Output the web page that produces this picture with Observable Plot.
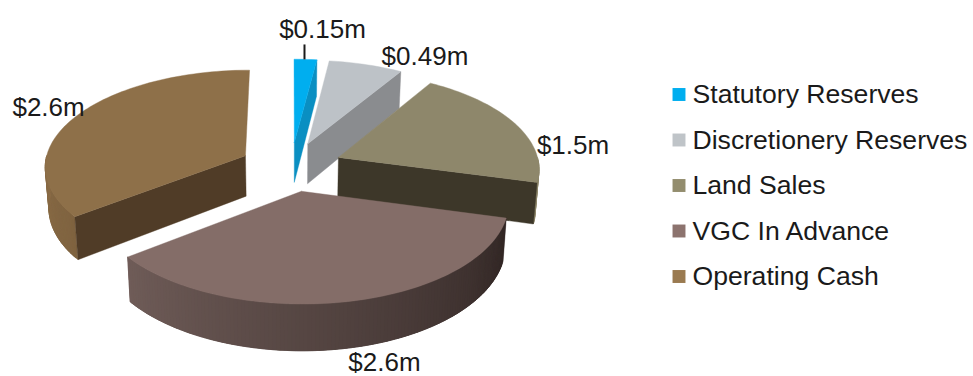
<!DOCTYPE html>
<html>
<head>
<meta charset="utf-8">
<style>
  html, body { margin: 0; padding: 0; background: #fff; }
  svg { display: block; }
</style>
<script src="https://cdn.jsdelivr.net/npm/d3@7"></script>
<script src="https://cdn.jsdelivr.net/npm/@observablehq/plot@0.6"></script>
</head>
<body>
<script>
// Funding sources, in millions of dollars
const categories = ["Statutory Reserves", "Discretionery Reserves", "Land Sales", "VGC In Advance", "Operating Cash"];
const values = [0.15, 0.49, 1.5, 2.6, 2.6];
const valueLabels = ["$0.15m", "$0.49m", "$1.5m", "$2.6m", "$2.6m"];

// Slice colours: top surface, flat cut faces, rim at each end of the slice
const topColors = ["#00aeef", "#bdc2c7", "#8e876b", "#846d68", "#8e7049"];
const faceColors = ["#0a8fc2", "#8a8c8f", "#3d3729", "#4a3b39", "#503c27"];
const rimColors = [["#0a8fc2", "#0a8fc2"], ["#8a8c8f", "#8a8c8f"], ["#8e876b", "#8e876b"], ["#322725", "#6f5c58"], ["#7f6340", "#8a6c46"]];
const swatchColors = ["#00aeef", "#bfc4c8", "#938d6e", "#8c736e", "#9a7a50"];

// Perspective tilt of the pie and its layout in the frame
const W = 973, H = 376;
const centerX = 290.6, centerY = 166, radiusX = 201, radiusY = 96.2;
const explode = 0.256, depth = 0.10, thickness = 0.425, floorShrink = 0.985;
const labelOffsets = [[17, -30], [59, -8], [58, 22], [37, 61], [-28, -8]];
const legendLeft = 692, legendTop = 94, legendStep = 45.5;

const px = (sx) => (sx - centerX) / radiusX;
const py = (sy) => (sy - centerY) / radiusY;

const arcs = d3.pie().sort(null).value((v) => v)(values);

// Project a point of the tilted pie plane into x/y scale units
function project(angle, r, mid, low = false) {
  const U = r * Math.sin(angle) + explode * Math.sin(mid);
  const V = -r * Math.cos(angle) - explode * Math.cos(mid);
  const p = 1 / (1 - depth * V);
  return low
    ? { x: U * p * floorShrink, y: V * p + thickness * p, v: V }
    : { x: U * p, y: V * p, v: V };
}

const slices = arcs.map((a, i) => {
  const mid = (a.startAngle + a.endAngle) / 2;
  return { i, a0: a.startAngle, a1: a.endAngle, mid, far: -Math.cos(mid) };
});

const polygons = [];
function addPolygon(id, points, color) {
  const ring = [...points, points[0]];
  ring.forEach((p) => polygons.push({ id, x: p.x, y: p.y, color }));
}

// Paint from the far side of the pie to the near side
[...slices].sort((a, b) => a.far - b.far).forEach((s) => {
  const { i, a0, a1, mid } = s;

  // Rim: only the stretch that faces the viewer, shaded across the slice.
  // Each strip runs on under the next one so no seams show between them.
  const rimFrom = Math.max(a0, Math.PI / 2);
  const rimTo = Math.min(a1, 3 * Math.PI / 2);
  if (rimTo > rimFrom) {
    const n = Math.ceil((rimTo - rimFrom) / (Math.PI / 180));
    const shade = d3.interpolateRgb(rimColors[i][0], rimColors[i][1]);
    for (let k = 0; k < n; k++) {
      const t0 = rimFrom + (rimTo - rimFrom) * k / n;
      const t1 = rimFrom + (rimTo - rimFrom) * Math.min(n, k + 3) / n;
      const points = [];
      for (let q = 0; q <= 3; q++) points.push(project(t0 + (t1 - t0) * q / 3, 1, mid));
      for (let q = 3; q >= 0; q--) points.push(project(t0 + (t1 - t0) * q / 3, 1, mid, true));
      addPolygon(`rim-${i}-${k}`, points, shade((k + 0.5) / n));
    }
  }

  // Cut faces that turn towards the viewer
  [[a0, -Math.sin(a0)], [a1, Math.sin(a1)]].forEach(([edge, facing], e) => {
    if (facing > 1e-6) {
      addPolygon(`face-${i}-${e}`, [
        project(edge, 0, mid), project(edge, 1, mid),
        project(edge, 1, mid, true), project(edge, 0, mid, true)
      ], faceColors[i]);
    }
  });

  // Top surface
  const steps = Math.max(4, Math.ceil((a1 - a0) / (Math.PI / 120)));
  const outline = [project(a0, 0, mid)];
  for (let k = 0; k <= steps; k++) outline.push(project(a0 + (a1 - a0) * k / steps, 1, mid));
  addPolygon(`top-${i}`, outline, topColors[i]);
});

const labelData = slices.map((s) => {
  const anchor = project(s.mid, 1, s.mid);
  return {
    x: anchor.x, y: anchor.y, text: valueLabels[s.i],
    dx: labelOffsets[s.i][0], dy: labelOffsets[s.i][1]
  };
});

const leaderFrom = project(slices[0].mid, 1, slices[0].mid);
const leaderTo = project(slices[0].mid, 1.2, slices[0].mid);

const legendRows = categories.map((name, i) => ({
  name, color: swatchColors[i], y: py(legendTop + i * legendStep)
}));

const chart = Plot.plot({
  width: W,
  height: H,
  margin: 0,
  style: { fontFamily: "'Liberation Sans', Arial, sans-serif", background: "#fff" },
  x: { domain: [px(0), px(W)], range: [0, W], axis: null },
  y: { domain: [py(0), py(H)], range: [0, H], axis: null },
  color: { type: "identity" },
  marks: [
    Plot.line(polygons, {
      x: "x", y: "y", z: "id",
      fill: "color", stroke: "color", strokeWidth: 0.4, curve: "linear"
    }),
    Plot.link([{ x: leaderFrom.x, y1: leaderFrom.y, y2: leaderTo.y }], {
      x1: "x", x2: "x", y1: "y1", y2: "y2",
      stroke: "#1a1a1a", strokeWidth: 2, dx: -1
    }),
    ...labelData.map((d) => Plot.text([d], {
      x: "x", y: "y", text: "text", dx: d.dx, dy: d.dy,
      fontSize: 26, fill: "#1a1a1a", textAnchor: "middle"
    })),
    Plot.dot(legendRows, {
      x: () => px(legendLeft - 13.5), y: "y",
      symbol: "square", r: 7.3, fill: "color", stroke: "none"
    }),
    Plot.text(legendRows, {
      x: () => px(legendLeft), y: "y", text: "name",
      fontSize: 26.6, fill: "#1a1a1a", textAnchor: "start"
    })
  ]
});

document.body.appendChild(chart);
</script>
</body>
</html>
